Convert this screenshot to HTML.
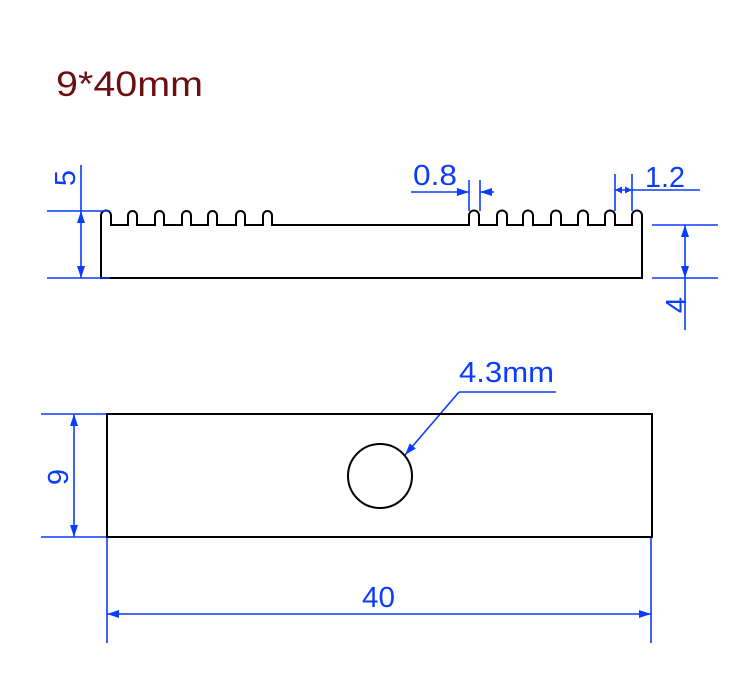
<!DOCTYPE html>
<html><head><meta charset="utf-8"><style>html,body{margin:0;padding:0;background:#fff}svg{display:block}</style></head>
<body>
<svg width="750" height="685" viewBox="0 0 750 685" xmlns="http://www.w3.org/2000/svg" font-family="Liberation Sans, sans-serif">
<defs>
<marker id="a" viewBox="0 0 12 8" refX="12" refY="4" markerWidth="12" markerHeight="8" markerUnits="userSpaceOnUse" orient="auto-start-reverse"><path d="M0 0 L12 4 L0 8 Z" fill="#0a3cff"/></marker>
<marker id="s" viewBox="0 0 8 8" refX="8" refY="4" markerWidth="8" markerHeight="7" markerUnits="userSpaceOnUse" orient="auto-start-reverse"><path d="M0 0 L8 4 L0 8 Z" fill="#0a3cff"/></marker>
</defs>
<text x="56" y="96" font-size="35" fill="#6b0f10" textLength="147" lengthAdjust="spacingAndGlyphs">9*40mm</text>

<path fill="none" stroke="#000" stroke-width="2" d="M101 278 L101 215.5 A5 5 0 0 1 111 215.5 L111 225
L128 225 L128 215.5 A4.5 4.5 0 0 1 137 215.5 L137 225
L155 225 L155 215.5 A4.5 4.5 0 0 1 164 215.5 L164 225
L182 225 L182 215.5 A4.5 4.5 0 0 1 191 215.5 L191 225
L208 225 L208 215.5 A4.5 4.5 0 0 1 217 215.5 L217 225
L236 225 L236 215.5 A4.5 4.5 0 0 1 245 215.5 L245 225
L263 225 L263 215.5 A4.5 4.5 0 0 1 272 215.5 L272 225
L469 225 L469 215.5 A5 5 0 0 1 479 215.5 L479 225
L497 225 L497 215.5 A5 5 0 0 1 507 215.5 L507 225
L523 225 L523 215.5 A5 5 0 0 1 533 215.5 L533 225
L551 225 L551 215.5 A5 5 0 0 1 561 215.5 L561 225
L578 225 L578 215.5 A5 5 0 0 1 588 215.5 L588 225
L605 225 L605 215.5 A5 5 0 0 1 615 215.5 L615 225
L632 225 L632 215.5 A5 5 0 0 1 642 215.5 L642 278 Z"/>

<g stroke="#0a3cff" stroke-width="1.6" fill="none">
<line x1="47" y1="211" x2="110" y2="211"/>
<line x1="47" y1="278" x2="110" y2="278"/>
<line x1="81" y1="165" x2="81" y2="211"/>
<line x1="81" y1="211" x2="81" y2="278" marker-start="url(#a)" marker-end="url(#a)"/>
<line x1="469" y1="180" x2="469" y2="211"/>
<line x1="480" y1="180" x2="480" y2="211"/>
<line x1="411" y1="192" x2="469" y2="192" marker-end="url(#a)"/>
<line x1="494" y1="192" x2="480" y2="192" marker-end="url(#a)"/>
<line x1="615" y1="174" x2="615" y2="211"/>
<line x1="632" y1="174" x2="632" y2="211"/>
<line x1="615" y1="190" x2="632" y2="190" marker-start="url(#s)" marker-end="url(#s)"/>
<line x1="632" y1="190" x2="700" y2="190"/>
<line x1="652" y1="225" x2="718" y2="225"/>
<line x1="652" y1="278" x2="718" y2="278"/>
<line x1="685" y1="225" x2="685" y2="278" marker-start="url(#a)" marker-end="url(#a)"/>
<line x1="685" y1="278" x2="685" y2="330"/>
<line x1="41" y1="414" x2="107" y2="414"/>
<line x1="41" y1="537" x2="107" y2="537"/>
<line x1="74" y1="414" x2="74" y2="537" marker-start="url(#a)" marker-end="url(#a)"/>
<line x1="107" y1="537" x2="107" y2="643"/>
<line x1="651" y1="537" x2="651" y2="643"/>
<line x1="107" y1="614" x2="651" y2="614" marker-start="url(#a)" marker-end="url(#a)"/>
<line x1="459" y1="392" x2="556" y2="392"/>
<line x1="459" y1="392" x2="405" y2="455" marker-end="url(#a)"/>
</g>

<rect x="107" y="414" width="545" height="123" fill="none" stroke="#000" stroke-width="2"/>
<circle cx="380" cy="476" r="32" fill="none" stroke="#000" stroke-width="2"/>

<g fill="#0a3cff" font-size="29">
<text transform="translate(75 178) rotate(-90)" text-anchor="middle">5</text>
<text x="413" y="185" textLength="44" lengthAdjust="spacingAndGlyphs">0.8</text>
<text x="645" y="187" textLength="40" lengthAdjust="spacingAndGlyphs">1.2</text>
<text transform="translate(686 305) rotate(-90)" text-anchor="middle">4</text>
<text x="459" y="382" textLength="95" lengthAdjust="spacingAndGlyphs">4.3mm</text>
<text transform="translate(68 477) rotate(-90)" text-anchor="middle">9</text>
<text x="362" y="607" textLength="33" lengthAdjust="spacingAndGlyphs">40</text>
</g>
</svg>
</body></html>
